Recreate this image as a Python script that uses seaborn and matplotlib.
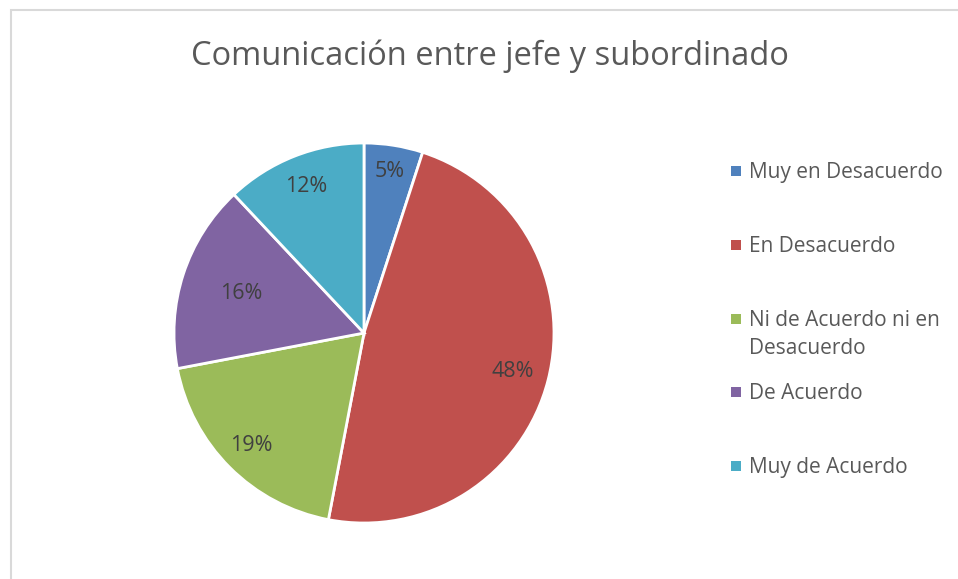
import matplotlib
matplotlib.use("Agg")
import numpy as np
import matplotlib.pyplot as plt
from matplotlib.patches import Rectangle
import seaborn as sns

sns.set_theme(style="white")
plt.rcParams['font.family'] = ['Open Sans', 'DejaVu Sans']

# data
categorias = ["Muy en Desacuerdo", "En Desacuerdo", "Ni de Acuerdo ni en\nDesacuerdo",
              "De Acuerdo", "Muy de Acuerdo"]
porcentajes = [5, 48, 19, 16, 12]
colores = ["#4F81BD", "#C0504D", "#9BBB59", "#8064A2", "#4BACC6"]
titulo = "Comunicación entre jefe y subordinado"

# label distance from centre, per slice (Excel "best fit" look)
dist_etiqueta = [0.86, 0.81, 0.84, 0.68, 0.83]

W, H = 958, 579
fig = plt.figure(figsize=(W / 100, H / 100), dpi=100)
fig.patch.set_facecolor("white")

# chart border (only left and top visible in the reference)
fig.patches.append(Rectangle((11 / W, -0.2), 2.0, 1 - 10 / H + 0.2,
                             transform=fig.transFigure, fill=False,
                             edgecolor="#D9D9D9", linewidth=1.5))

ax = fig.add_axes([0.1816, 0.0967, 0.3967, 0.6563])
wedges, texts, autotexts = ax.pie(
    porcentajes, colors=colores, startangle=90, counterclock=False,
    autopct="%1.0f%%", pctdistance=0.83,
    wedgeprops=dict(edgecolor="white", linewidth=2),
    textprops=dict(color="#404040", fontsize=15.5))
for w, t, d in zip(wedges, autotexts, dist_etiqueta):
    ang = np.deg2rad((w.theta1 + w.theta2) / 2)
    t.set_position((d * np.cos(ang), d * np.sin(ang)))
ax.set_xlim(-1, 1)
ax.set_ylim(-1, 1)
ax.set_aspect("equal")

fig.text(490 / W, 0.903, titulo, ha="center", va="center", fontsize=23.5, color="#595959")

# legend, Excel style: fixed pitch, wrapped entry overflows downward
paso = 73.75
for i, (cat, c) in enumerate(zip(categorias, colores)):
    yc = 171 + i * paso
    fig.patches.append(Rectangle((731 / W, 1 - (yc + 5) / H), 10 / W, 10 / H,
                                 transform=fig.transFigure, facecolor=c, edgecolor="none"))
    fig.text(749 / W, 1 - (yc - 9) / H, cat, ha="left", va="top", fontsize=15,
             color="#595959", linespacing=1.45)

fig.savefig("out.png", dpi=100, facecolor="white")
